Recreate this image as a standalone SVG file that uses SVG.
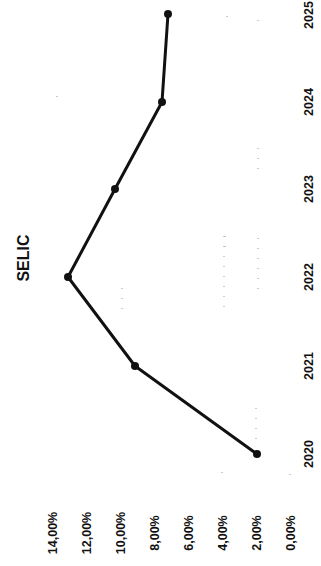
<svg xmlns="http://www.w3.org/2000/svg" width="321" height="566" viewBox="0 0 321 566">
<style>
.lbl{font-family:"Liberation Sans",Arial,sans-serif;font-weight:bold;font-size:12.5px;fill:#111;text-anchor:middle}
.yr{font-family:"Liberation Sans",Arial,sans-serif;font-weight:bold;font-size:12.5px;fill:#111;text-anchor:middle}
.ttl{font-family:"Liberation Sans",Arial,sans-serif;font-weight:bold;font-size:16px;fill:#111;text-anchor:middle}
.grid{stroke:#999;stroke-width:1;stroke-dasharray:1 9;fill:none}
.pt{fill:#111}
</style>
<rect width="321" height="566" fill="#fff"/>
<g id="grid">
<path class="grid" d="M256 408V448M222 472V482M290 474V480M122 288V314M224 236V314M258 20V30M258 148V178M258 238V292M57 96V100M227 16V22M225 236V252"/>
</g>
<g id="title"><text class="ttl" transform="translate(29,258) rotate(-90)">SELIC</text></g>
<g id="value-axis">
<text class="lbl" transform="translate(57,533) rotate(-90)">14,00%</text>
<text class="lbl" transform="translate(91,533) rotate(-90)">12,00%</text>
<text class="lbl" transform="translate(125,533) rotate(-90)">10,00%</text>
<text class="lbl" transform="translate(159,533) rotate(-90)">8,00%</text>
<text class="lbl" transform="translate(193,533) rotate(-90)">6,00%</text>
<text class="lbl" transform="translate(227,533) rotate(-90)">4,00%</text>
<text class="lbl" transform="translate(261,533) rotate(-90)">2,00%</text>
<text class="lbl" transform="translate(295,533) rotate(-90)">0,00%</text>
</g>
<g id="category-axis">
<text class="yr" transform="translate(313,454) rotate(-90)">2020</text>
<text class="yr" transform="translate(313,366) rotate(-90)">2021</text>
<text class="yr" transform="translate(313,277) rotate(-90)">2022</text>
<text class="yr" transform="translate(313,189) rotate(-90)">2023</text>
<text class="yr" transform="translate(313,102) rotate(-90)">2024</text>
<text class="yr" transform="translate(313,15) rotate(-90)">2025</text>
</g>
<g id="series">
<polyline points="257,454 135,366 68,277 115,189 162,102 168,14" fill="none" stroke="#111" stroke-width="3" stroke-linejoin="round"/>
<circle class="pt" cx="257" cy="454" r="4"/>
<circle class="pt" cx="135" cy="366" r="4"/>
<circle class="pt" cx="68" cy="277" r="4"/>
<circle class="pt" cx="115" cy="189" r="4"/>
<circle class="pt" cx="162" cy="102" r="4"/>
<circle class="pt" cx="168" cy="14" r="4"/>
</g>
</svg>
